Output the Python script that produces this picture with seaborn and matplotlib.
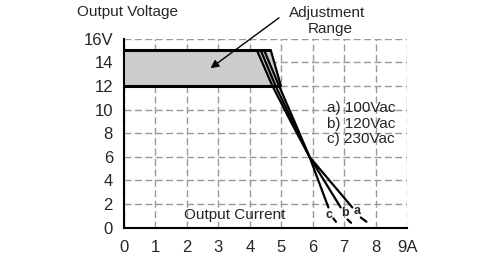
import matplotlib
matplotlib.use("Agg")
import matplotlib.pyplot as plt
import seaborn as sns
import pandas as pd

# ---- data ----
x_ticks = [0, 1, 2, 3, 4, 5, 6, 7, 8, 9]
x_labels = ["0", "1", "2", "3", "4", "5", "6", "7", "8", "9A"]
y_ticks = [0, 2, 4, 6, 8, 10, 12, 14, 16]
y_labels = ["0", "2", "4", "6", "8", "10", "12", "14", "16V"]

range_x = [0, 4.67, 4.99, 0]
range_y = [15, 15, 12, 12]

curve_y = [15, 12, 9, 6, 1.72]
curve_a_x = [4.23, 4.72, 5.30, 5.90, 7.26]
curve_b_x = [4.35, 4.82, 5.36, 5.90, 6.89]
curve_c_x = [4.46, 4.93, 5.42, 5.90, 6.50]
edge_x = [4.67, 4.99]
edge_y = [15, 12]

tail_a = ([7.53, 7.71], [0.87, 0.51])
tail_b = ([7.11, 7.22], [0.70, 0.42])
tail_c = ([6.66, 6.74], [0.79, 0.51])

legend_lines = ["a) 100Vac", "b) 120Vac", "c) 230Vac"]

sns.set_style("white")
plt.rcParams["font.family"] = ["Liberation Sans", "DejaVu Sans"]

fig = plt.figure(figsize=(5.0, 2.63), dpi=100)
ax = fig.add_axes([0.248, 0.134, 0.566, 0.719])

# adjustment range box
ax.fill(range_x, range_y, color="#cccccc", zorder=1, lw=0)
ax.plot([0, 4.67], [15, 15], color="black", lw=2.2, zorder=3, solid_capstyle="butt")
ax.plot([0, 4.95], [12, 12], color="black", lw=2.2, zorder=3, solid_capstyle="butt")
ax.plot(edge_x, edge_y, color="black", lw=1.6, zorder=3)

for cx in (curve_a_x, curve_b_x, curve_c_x):
    df = pd.DataFrame({"x": cx, "y": curve_y})
    sns.lineplot(data=df, x="x", y="y", sort=False, color="black", lw=1.6, ax=ax, zorder=4)
for tx, ty in (tail_a, tail_b, tail_c):
    ax.plot(tx, ty, color="black", lw=1.6, zorder=4)

ax.set_xlim(0, 9)
ax.set_ylim(0, 16)
ax.set_xticks(x_ticks)
ax.set_xticklabels(x_labels, fontsize=12)
ax.set_yticks(y_ticks)
ax.set_yticklabels(y_labels, fontsize=12)
ax.set_xlabel("")
ax.set_ylabel("")

ax.grid(True, color="#999999", lw=1.0, linestyle=(0, (5, 2.5)))
ax.set_axisbelow(True)
for s in ("top", "right"):
    ax.spines[s].set_visible(False)
for s in ("left", "bottom"):
    ax.spines[s].set_color("black")
    ax.spines[s].set_linewidth(1.5)
ax.tick_params(axis="x", direction="inout", length=8, width=1.2, color="black", pad=5)
ax.tick_params(axis="y", direction="out", length=5, width=1.2, color="black", pad=3)

# texts
fig.text(77 / 500, 1 - 12 / 263, "Output Voltage", fontsize=11, ha="left", va="center")
ax.text(3.52, 1.07, "Output Current", fontsize=11, ha="center", va="center")
ax.text(6.45, 18.2, "Adjustment", fontsize=11, ha="center", va="center", clip_on=False)
ax.text(6.55, 16.85, "Range", fontsize=11, ha="center", va="center", clip_on=False)
ax.annotate("", xy=(2.68, 13.36), xytext=(5.0, 17.9),
            arrowprops=dict(arrowstyle="-|>", color="black", lw=1.0, mutation_scale=12),
            annotation_clip=False)
for i, t in enumerate(legend_lines):
    ax.text(6.45, 10.1 - i * 1.3, t, fontsize=11, ha="left", va="center")

ax.text(6.52, 1.07, "c", fontsize=9, fontweight="bold", ha="center", va="center")
ax.text(7.02, 1.21, "b", fontsize=9, fontweight="bold", ha="center", va="center")
ax.text(7.41, 1.41, "a", fontsize=9, fontweight="bold", ha="center", va="center")

fig.savefig("out.png", dpi=100)
